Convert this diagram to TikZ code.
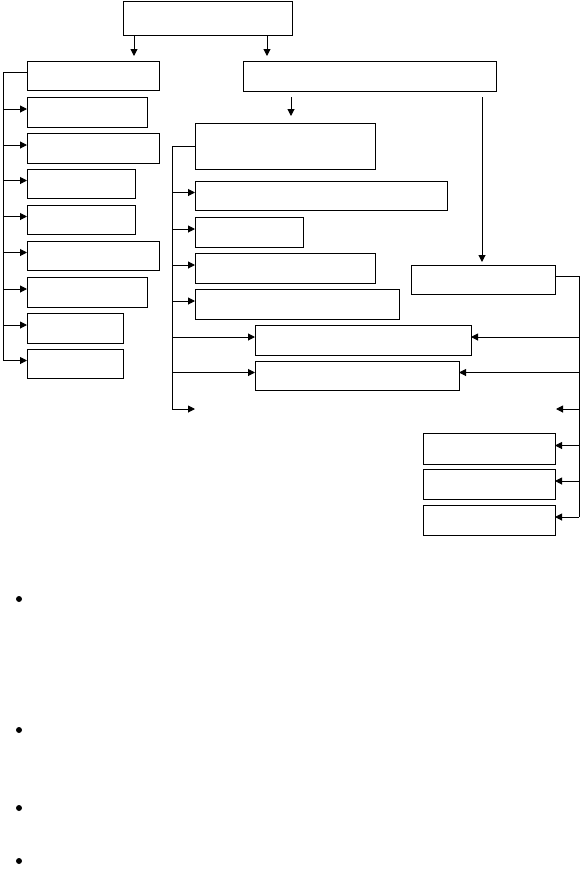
\documentclass[tikz,border=0pt]{standalone}
\usetikzlibrary{arrows.meta}
\begin{document}
\begin{tikzpicture}[x=1pt,y=-1pt,
  box/.style={draw, line width=1pt, inner sep=0pt, outer sep=0pt, anchor=north west},
  conn/.style={line width=1pt},
  arr/.style={conn, -{Triangle[length=7pt,width=7pt]}},
  bullet/.style={circle, fill, inner sep=0pt, minimum size=6pt}]
\useasboundingbox (0,0) rectangle (581,871);
\newcommand{\mybox}[5]{\node[box, minimum width=#4pt, minimum height=#5pt] (#1) at (#2,#3) {};}
% top
\mybox{top}{123}{1}{169}{34}
% left column
\mybox{L1}{27}{61}{132}{29}
\mybox{L2}{27}{97}{120}{30}
\mybox{L3}{27}{133}{132}{30}
\mybox{L4}{27}{169}{108}{29}
\mybox{L5}{27}{205}{108}{29}
\mybox{L6}{27}{241}{132}{29}
\mybox{L7}{27}{277}{120}{30}
\mybox{L8}{27}{313}{96}{30}
\mybox{L9}{27}{349}{96}{29}
% right big box
\mybox{RB}{243}{61}{253}{30}
% middle column
\mybox{A}{195}{123}{180}{46}
\mybox{B}{195}{181}{252}{29}
\mybox{C}{195}{217}{108}{30}
\mybox{D}{195}{253}{180}{30}
\mybox{E}{195}{289}{204}{30}
\mybox{F}{255}{325}{216}{30}
\mybox{G}{255}{361}{204}{29}
% right column
\mybox{R}{411}{265}{144}{29}
\mybox{H}{423}{433}{132}{31}
\mybox{I}{423}{469}{132}{30}
\mybox{J}{423}{505}{132}{30}
% top arrows
\coordinate (t1) at (134,56);
\coordinate (t2) at (267,56);
\draw[arr] (t1 |- top.south) -- (t1);
\draw[arr] (t2 |- top.south) -- (t2);
% arrows from right big box
\coordinate (a1s) at (291,97);
\coordinate (a1e) at (291,116);
\draw[arr] (a1s) -- (a1e);
\coordinate (a2s) at (482,97);
\coordinate (a2e) at (482,262);
\draw[arr] (a2s) -- (a2e);
% left bus
\coordinate (lb) at (3.5,0);
\draw[conn] ([yshift=3pt]L1.west) -- ([yshift=3pt]L1.west -| lb) -- ([yshift=3pt]L9.west -| lb);
\foreach \n in {L2,L3,L4,L5,L6,L7,L8,L9}
  \draw[arr] ([yshift=3pt]\n.west -| lb) -- ([yshift=3pt]\n.west);
% middle bus
\coordinate (mb) at (172,0);
\coordinate (m9) at (195,409);
\draw[conn] (A.west) -- (A.west -| mb) -- (m9 -| mb);
\foreach \n in {B,C,D,E,F,G}
  \draw[arr] ([yshift=3pt]\n.west -| mb) -- ([yshift=3pt]\n.west);
\draw[arr] (m9 -| mb) -- (m9);
% right bus
\coordinate (rb) at (579,0);
\coordinate (r9) at (556,409);
\draw[conn] ([yshift=3pt]R.east) -- ([yshift=3pt]R.east -| rb) -- ([yshift=3pt]J.east -| rb);
\foreach \n in {F,G,H,I,J}
  \draw[arr] ([yshift=3pt]\n.east -| rb) -- ([yshift=3pt]\n.east);
\draw[arr] (r9 -| rb) -- (r9);
% bullets
\node[bullet] (b1) at (19,599) {};
\node[bullet] (b2) at (19,730) {};
\node[bullet] (b3) at (19,808) {};
\node[bullet] (b4) at (19,861) {};
\end{tikzpicture}
\end{document}
